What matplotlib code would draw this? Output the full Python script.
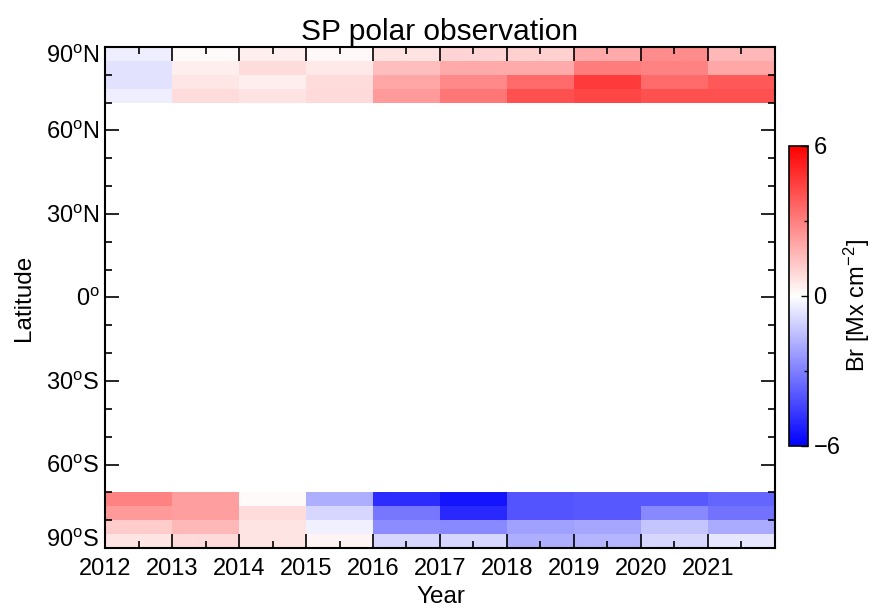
import numpy as np
import matplotlib
matplotlib.use("Agg")
import matplotlib.pyplot as plt
import matplotlib.transforms as mtransforms
from matplotlib.colors import LinearSegmentedColormap
from matplotlib.ticker import MultipleLocator

plt.rcParams['font.family'] = ['Liberation Sans', 'DejaVu Sans']
plt.rcParams['mathtext.default'] = 'regular'

years = [2012, 2013, 2014, 2015, 2016, 2017, 2018, 2019, 2020, 2021]
year_labels = ['2012', '2013', '2014', '2015', '2016', '2017', '2018', '2019', '2020', '2021']

# latitude bin edges of the two polar caps
north_edges = [70, 75, 80, 85, 90]
south_edges = [-90, -85, -80, -75, -70]

# north cap, rows from 70-75 up to 85-90, one column per year
north_br = np.array([
    [-0.4, 0.8, 0.7, 0.85, 2.35, 3.2, 4.1, 4.35, 4.1, 4.1],
    [-0.7, 0.6, 0.4, 0.8, 2.1, 2.8, 3.5, 4.6, 3.5, 3.9],
    [-0.7, 0.4, 0.8, 0.55, 1.5, 2.0, 2.0, 3.05, 2.95, 2.1],
    [-0.4, 0.1, 0.4, 0.15, 0.7, 1.0, 1.1, 2.0, 2.7, 1.65],
])

# south cap, rows from -90..-85 up to -75..-70
south_br = np.array([
    [0.65, 0.85, 0.65, 0.25, -0.95, -0.95, -1.9, -1.75, -0.95, -0.6],
    [1.2, 1.65, 0.65, -0.35, -2.7, -2.8, -2.25, -2.1, -1.4, -2.0],
    [2.35, 2.25, 0.8, -0.95, -3.2, -5.05, -4.0, -3.9, -2.8, -3.3],
    [2.95, 2.25, 0.1, -1.9, -4.95, -5.5, -4.0, -3.9, -3.9, -3.65],
])

cmap = LinearSegmentedColormap.from_list('bwr_idl', [(0, 0, 1), (1, 1, 1), (1, 0, 0)])
vmax = 6
fs = 17

fig = plt.figure(figsize=(8.73, 6.11), dpi=100)
ax = fig.add_axes([0.1203, 0.1031, 0.7674, 0.82])

x_edges = years + [years[-1] + 1]
ax.pcolormesh(x_edges, north_edges, north_br, cmap=cmap, vmin=-vmax, vmax=vmax)
im = ax.pcolormesh(x_edges, south_edges, south_br, cmap=cmap, vmin=-vmax, vmax=vmax)

ax.set_xlim(2012, 2022)
ax.set_ylim(-90, 90)
ax.set_xticks(years)
ax.set_xticklabels(year_labels)
ax.xaxis.set_minor_locator(MultipleLocator(0.5))
ax.set_yticks([-90, -60, -30, 0, 30, 60, 90])
ax.set_yticklabels(['90$^o$S', '60$^o$S', '30$^o$S', '0$^o$',
                    '30$^o$N', '60$^o$N', '90$^o$N'])
ax.yaxis.set_minor_locator(MultipleLocator(10))
ax.tick_params(which='both', direction='in', top=True, right=True,
               labelsize=fs, width=1.2)
ax.tick_params(axis='x', pad=7)
ax.tick_params(axis='y', pad=4)
ax.tick_params(which='major', length=10)
ax.tick_params(which='minor', length=5)
for s in ax.spines.values():
    s.set_linewidth(1.5)

# edge labels sit just inside the axis range, like the original
ylabs = ax.get_yticklabels()
ylabs[0].set_transform(ylabs[0].get_transform() +
                       mtransforms.ScaledTranslation(0, 7 / 72, fig.dpi_scale_trans))
ylabs[-1].set_transform(ylabs[-1].get_transform() +
                        mtransforms.ScaledTranslation(0, -5 / 72, fig.dpi_scale_trans))

ax.set_title('SP polar observation', fontsize=21.5, pad=5)
fig.text(441 / 873, 1 - 603 / 611, 'Year', fontsize=fs + 0.5, ha='center', va='baseline')
ax.set_ylabel('Latitude', fontsize=fs + 0.5, labelpad=8)

cax = fig.add_axes([789 / 873, 1 - 446 / 611, 19 / 873, 300 / 611])
cb = fig.colorbar(im, cax=cax, ticks=[-6, 0, 6])
cb.ax.set_yticklabels(['\u22126', '0', '6'])
cb.ax.yaxis.set_minor_locator(MultipleLocator(3))
cb.ax.tick_params(which='both', direction='in', labelsize=fs, width=1, pad=4)
cb.ax.tick_params(which='major', length=5)
cb.ax.tick_params(which='minor', length=3)
cb.outline.set_linewidth(1.2)
fig.text(857 / 873, 0.5, 'Br [Mx cm$^{-2}$]', fontsize=fs, rotation=90,
         ha='center', va='center')

fig.savefig('out.png', dpi=100)
